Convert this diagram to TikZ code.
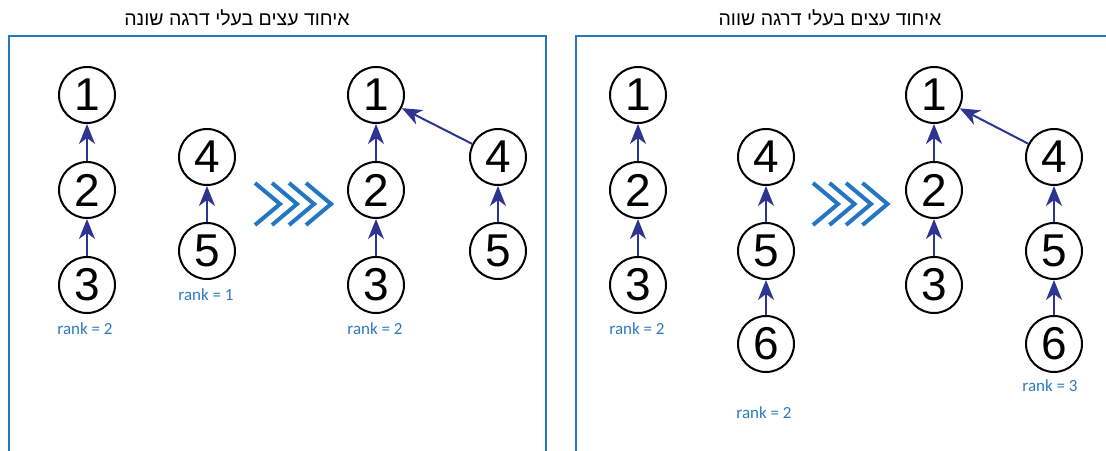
\documentclass[tikz,border=0pt]{standalone}
\usepackage{fontspec}
\setmainfont{Liberation Sans}
\newfontfamily\hebfont[Script=Hebrew]{Liberation Sans}
\newfontfamily\rankfont{Carlito}
\usetikzlibrary{arrows.meta}
\TeXXeTstate=1

\definecolor{boxblue}{RGB}{38,118,192}
\definecolor{chevblue}{RGB}{34,118,196}
\definecolor{arrowblue}{RGB}{46,52,146}
\definecolor{rankblue}{RGB}{44,122,196}

\begin{document}
\begin{tikzpicture}[x=1pt,y=-1pt,
  vert/.style={circle, draw=black, line width=2pt, minimum size=56pt, inner sep=0pt,
    font=\fontsize{46}{46}\selectfont},
  link/.style={draw=arrowblue, line width=2pt, -{Stealth[length=20pt,width=16pt,inset=6pt]}},
  ranklbl/.style={text=rankblue, inner sep=0pt, font=\rankfont\fontsize{17}{17}\selectfont},
  chev/.style={draw=chevblue, line width=4pt, line join=miter},
  panel/.style={draw=boxblue, line width=2pt},
  heading/.style={inner sep=0pt, font=\hebfont\fontsize{19.5}{20}\selectfont}]
\useasboundingbox (0,0) rectangle (1106,450);

% panel frames
\draw[panel] (9,456) -- (9,36) -- (546,36) -- (546,456);
\draw[panel] (576,456) -- (576,36) -- (1114,36);

% headings
\node[heading] (t1) at (237,18) {\beginR איחוד עצים בעלי דרגה שונה\endR};
\node[heading] (t2) at (830,18) {\beginR איחוד עצים בעלי דרגה שווה\endR};

% ---- union of trees with different rank ----
\node[vert] (a1) at (87,95) {1};
\node[vert] (a2) at (87,190) {2};
\node[vert] (a3) at (87,285) {3};
\node[vert] (a4) at (207,157) {4};
\node[vert] (a5) at (207,251) {5};
\draw[link] (a2) -- (a1);
\draw[link] (a3) -- (a2);
\draw[link] (a5) -- (a4);
\node[ranklbl] (ra) at (85,329) {rank = 2};
\node[ranklbl] (rb) at (206,295) {rank = 1};

\foreach \i in {0,...,3}
  \draw[chev] (255+17*\i,183) -- (280+17*\i,204) -- (255+17*\i,225);

\node[vert] (b1) at (376,95) {1};
\node[vert] (b2) at (376,190) {2};
\node[vert] (b3) at (376,285) {3};
\node[vert] (b4) at (498,157) {4};
\node[vert] (b5) at (498,251) {5};
\draw[link] (b2) -- (b1);
\draw[link] (b3) -- (b2);
\draw[link] (b5) -- (b4);
\draw[link] (b4) -- (b1);
\node[ranklbl] (rc) at (375,329) {rank = 2};

% ---- union of trees with equal rank ----
\node[vert] (c1) at (638,95) {1};
\node[vert] (c2) at (638,190) {2};
\node[vert] (c3) at (638,285) {3};
\node[vert] (c4) at (766,157) {4};
\node[vert] (c5) at (766,251) {5};
\node[vert] (c6) at (766,344) {6};
\draw[link] (c2) -- (c1);
\draw[link] (c3) -- (c2);
\draw[link] (c5) -- (c4);
\draw[link] (c6) -- (c5);
\node[ranklbl] (rd) at (637,329) {rank = 2};
\node[ranklbl] (re) at (764,413) {rank = 2};

\foreach \i in {0,...,3}
  \draw[chev] (813+16.5*\i,183) -- (838+16.5*\i,204) -- (813+16.5*\i,225);

\node[vert] (d1) at (934,95) {1};
\node[vert] (d2) at (934,190) {2};
\node[vert] (d3) at (934,285) {3};
\node[vert] (d4) at (1054,157) {4};
\node[vert] (d5) at (1054,251) {5};
\node[vert] (d6) at (1054,344) {6};
\draw[link] (d2) -- (d1);
\draw[link] (d3) -- (d2);
\draw[link] (d5) -- (d4);
\draw[link] (d6) -- (d5);
\draw[link] (d4) -- (d1);
\node[ranklbl] (rf) at (1050,386) {rank = 3};
\end{tikzpicture}
\end{document}
